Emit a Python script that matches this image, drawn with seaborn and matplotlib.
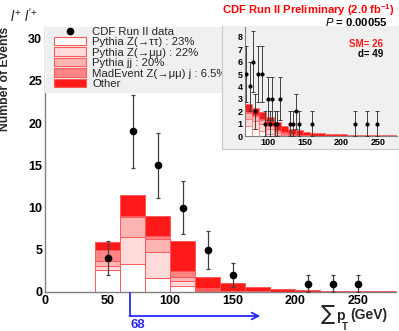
import numpy as np
import pandas as pd
import matplotlib
matplotlib.use("Agg")
import matplotlib.pyplot as plt
import seaborn as sns
from matplotlib.patches import Rectangle, Patch
from matplotlib.lines import Line2D
from matplotlib import transforms
from matplotlib.ticker import MultipleLocator

# ---------------- data ----------------
bin_edges = [0, 20, 40, 60, 80, 100, 120, 140, 160, 180, 200, 220, 240, 260, 280]
ztt   = [0, 0, 2.60, 3.27, 1.62, 0.70, 0.10, 0.03, 0.01, 0.00, 0.00, 0.00, 0.00, 0.00]
zmm   = [0, 0, 0.50, 3.28, 3.11, 0.60, 0.15, 0.03, 0.02, 0.01, 0.00, 0.00, 0.00, 0.00]
jj    = [0, 0, 0.55, 2.32, 1.50, 0.50, 0.10, 0.04, 0.02, 0.01, 0.00, 0.00, 0.00, 0.00]
mad   = [0, 0, 1.32, 0.08, 0.44, 0.65, 0.15, 0.05, 0.02, 0.01, 0.01, 0.00, 0.00, 0.00]
other = [0, 0, 0.95, 2.49, 2.28, 3.55, 1.25, 0.87, 0.56, 0.37, 0.23, 0.16, 0.10, 0.08]

data_x = [50, 70, 90, 110, 130, 150, 210, 230, 250]
data_y = [4, 19, 15, 10, 5, 2, 1, 1, 1]

inset_edges = [68, 78, 88, 98, 108, 118, 128, 138, 148, 158, 168, 178, 188, 198, 208, 218, 228, 238, 248, 258, 268, 278]
in_ztt   = [0.80, 0.60, 0.40, 0.20, 0.10, 0.05, 0.02, 0.01, 0, 0, 0, 0, 0, 0, 0, 0, 0, 0, 0, 0, 0]
in_zmm   = [0.60, 0.60, 0.55, 0.35, 0.15, 0.08, 0.04, 0.02, 0.01, 0, 0, 0, 0, 0, 0, 0, 0, 0, 0, 0, 0]
in_jj    = [0.45, 0.45, 0.35, 0.25, 0.15, 0.08, 0.05, 0.03, 0.02, 0.01, 0, 0, 0, 0, 0, 0, 0, 0, 0, 0, 0]
in_mad   = [0.05, 0.08, 0.10, 0.12, 0.12, 0.08, 0.05, 0.03, 0.02, 0.01, 0, 0, 0, 0, 0, 0, 0, 0, 0, 0, 0]
in_other = [0.65, 0.55, 0.50, 0.60, 0.65, 0.55, 0.44, 0.36, 0.30, 0.26, 0.22, 0.18, 0.16, 0.14, 0.12, 0.10, 0.09, 0.08, 0.07, 0.06, 0.05]

inset_x = [70, 75, 79, 83, 87, 92, 95.5, 100, 103, 105, 109.5, 112, 117, 130, 134, 138, 142, 160, 219, 235.5, 249]
inset_y = [5, 4, 6, 2, 5, 5, 1, 3, 1, 3, 1, 1, 3, 1, 1, 2, 1, 1, 1, 1, 1]

components = ["Other", "MadEvent Z(→μμ) j", "Pythia jj", "Pythia Z(→μμ)", "Pythia Z(→ττ)"]
legend_labels = ["CDF Run II data", "Pythia Z(→ττ) : 23%", "Pythia Z(→μμ) : 22%",
                 "Pythia jj : 20%", "MadEvent Z(→μμ) j : 6.5%", "Other"]
sm_text = "SM= 26"
d_text = "d= 49"
cut_value = 68

# ---------------- style ----------------
sns.set_theme(style="white")
plt.rcParams["font.family"] = ["Liberation Sans", "DejaVu Sans"]
plt.rcParams["mathtext.fontset"] = "custom"
plt.rcParams["mathtext.rm"] = "Liberation Sans"
plt.rcParams["mathtext.it"] = "Liberation Sans:italic"
plt.rcParams["mathtext.bf"] = "Liberation Sans:bold"

palette = {"Other": "#ff1a1a", "MadEvent Z(→μμ) j": "#ff8484",
           "Pythia jj": "#ffb4b4", "Pythia Z(→μμ)": "#ffdada", "Pythia Z(→ττ)": "#ffffff"}
edge = "#ff5a5a"
axis_gray = "#808080"

W, H = 399, 331
def fx(px): return px / W
def fy(py): return 1 - py / H

def long_df(edges, layers):
    centers = [(edges[i] + edges[i + 1]) / 2 for i in range(len(edges) - 1)]
    rows = []
    for name, vals in zip(components, layers):
        for c, v in zip(centers, vals):
            rows.append({"x": c, "w": v, "comp": name})
    return pd.DataFrame(rows)

fig = plt.figure(figsize=(3.99, 3.31), dpi=100)

# ---------------- main axes ----------------
ax = fig.add_axes([fx(45), fy(292), (395.6 - 45) / W, (292 - 26.7) / H])
ax.set_facecolor("white")
df_main = long_df(bin_edges, [other, mad, jj, zmm, ztt])
sns.histplot(data=df_main, x="x", weights="w", hue="comp", hue_order=components,
             bins=bin_edges, multiple="stack", palette=palette, alpha=1,
             edgecolor=edge, linewidth=0.7, legend=False, ax=ax)
ax.errorbar(data_x, data_y, yerr=np.sqrt(data_y), fmt="o", color="black", ms=4.5,
            ecolor="#404040", elinewidth=0.9, capsize=1.5, capthick=0.9, zorder=6)
ax.set_xlim(0, 280)
ax.set_ylim(0, 31.4)
ax.set_xlabel("")
ax.set_ylabel("")
for s in ["top", "right"]:
    ax.spines[s].set_visible(False)
for s in ["left", "bottom"]:
    ax.spines[s].set_color(axis_gray)
    ax.spines[s].set_linewidth(1.0)
ax.xaxis.set_major_locator(MultipleLocator(50))
ax.xaxis.set_minor_locator(MultipleLocator(10))
ax.yaxis.set_major_locator(MultipleLocator(5))
ax.yaxis.set_minor_locator(MultipleLocator(1))
ax.tick_params(which="both", direction="in", color=axis_gray, labelcolor="black",
               width=0.8, labelsize=9, pad=2)
ax.tick_params(axis="y", which="major", length=8.6)
ax.tick_params(axis="y", which="minor", length=4.5)
ax.tick_params(axis="x", which="major", length=6.5)
ax.tick_params(axis="x", which="minor", length=3.2)
for lbl in ax.get_xticklabels() + ax.get_yticklabels():
    lbl.set_fontweight("bold")

# legend background + legend
ax.add_patch(Rectangle((fx(45), fy(93)), fx(222) - fx(45), fy(27) - fy(93),
                       transform=fig.transFigure, facecolor="#f0f0f0",
                       edgecolor="none", clip_on=False, zorder=4))
handles = [Line2D([], [], marker="o", color="black", ls="none", ms=4.5)]
for comp in ["Pythia Z(→ττ)", "Pythia Z(→μμ)", "Pythia jj", "MadEvent Z(→μμ) j", "Other"]:
    handles.append(Patch(facecolor=palette[comp], edgecolor=edge, linewidth=0.8))
leg = ax.legend(handles, legend_labels, loc="upper left",
                bbox_to_anchor=(fx(54), fy(26.5)), bbox_transform=fig.transFigure,
                frameon=False, borderpad=0, borderaxespad=0, fontsize=8.2,
                handlelength=2.8, handleheight=0.72, handletextpad=0.55,
                labelspacing=0.04)
leg.set_zorder(5)

# ---------------- inset pad ----------------
pad = fig.add_axes([fx(222), fy(149), (399 - 222) / W, (149 - 26) / H])
pad.set_facecolor("#f0f0f0")
pad.set_xticks([])
pad.set_yticks([])
for s in ["top", "right"]:
    pad.spines[s].set_visible(False)
for s in ["left", "bottom"]:
    pad.spines[s].set_color("#c8c8c8")
    pad.spines[s].set_linewidth(0.8)

ins = fig.add_axes([fx(244.5), fy(136), (397 - 244.5) / W, (136 - 27) / H])
ins.set_facecolor("#f0f0f0")
df_in = long_df(inset_edges, [in_other, in_mad, in_jj, in_zmm, in_ztt])
sns.histplot(data=df_in, x="x", weights="w", hue="comp", hue_order=components,
             bins=inset_edges, multiple="stack", palette=palette, alpha=1,
             edgecolor=edge, linewidth=0.4, legend=False, ax=ins)
ins.errorbar(inset_x, inset_y, yerr=np.sqrt(inset_y), fmt="o", color="black", ms=2.0,
             ecolor="#404040", elinewidth=0.7, capsize=1.3, capthick=0.7, zorder=6)
ins.set_xlim(68, 276)
ins.set_ylim(0, 8.8)
ins.set_xlabel("")
ins.set_ylabel("")
for s in ["top", "right"]:
    ins.spines[s].set_visible(False)
for s in ["left", "bottom"]:
    ins.spines[s].set_color(axis_gray)
    ins.spines[s].set_linewidth(0.8)
ins.xaxis.set_major_locator(MultipleLocator(50))
ins.xaxis.set_minor_locator(MultipleLocator(10))
ins.yaxis.set_major_locator(MultipleLocator(1))
ins.yaxis.set_minor_locator(MultipleLocator(0.5))
ins.tick_params(which="both", direction="in", color=axis_gray, labelcolor="black",
                width=0.6, labelsize=6.5, pad=1.5)
ins.tick_params(which="major", length=3.5)
ins.tick_params(which="minor", length=2)
for lbl in ins.get_xticklabels() + ins.get_yticklabels():
    lbl.set_fontweight("bold")

fig.text(fx(383), fy(44), sm_text, color="#ff1a1a", fontsize=7, fontweight="bold",
         ha="right", va="center")
fig.text(fx(383), fy(54), d_text, color="black", fontsize=7, fontweight="bold",
         ha="right", va="center")

# ---------------- texts ----------------
fig.text(fx(395), fy(13.5), r"CDF Run II Preliminary (2.0 fb$^{\mathbf{-1}}$)", color="red",
         fontsize=8.1, fontweight="bold", ha="right", va="baseline")
fig.text(fx(388), fy(26), r"$\mathit{P}$ = 0.00055", color="black",
         fontsize=8.1, fontweight="bold", ha="right", va="baseline")
fig.text(fx(5.5), fy(27), "Number of Events", rotation=90, fontsize=8.7,
         fontweight="bold", ha="center", va="top")
fig.text(fx(10), fy(16), r"$l^{+}\ l'^{+}$", fontsize=10, ha="left", va="center")

# x label pieces
fig.text(fx(328), fy(314), "∑", fontsize=15, ha="center", va="center",
         family=["DejaVu Sans"])
fig.text(fx(336.5), fy(316), "p", fontsize=10, fontweight="bold", ha="left", va="center")
fig.text(fx(342), fy(327.5), "T", fontsize=7, fontweight="bold", ha="left", va="center")
fig.text(fx(350), fy(315.5), "(GeV)", fontsize=10, fontweight="bold", ha="left", va="center")

# cut arrow
blend = transforms.blended_transform_factory(ax.transData, fig.transFigure)
ax.plot([cut_value, cut_value], [fy(293), fy(316)], color="#2a2aff", lw=1.3,
        transform=blend, clip_on=False, zorder=7)
ax.annotate("", xy=(172, fy(316)), xytext=(cut_value - 0.5, fy(316)),
            xycoords=blend, textcoords=blend,
            arrowprops=dict(arrowstyle="->", color="#2a2aff", lw=1.3,
                            shrinkA=0, shrinkB=0, mutation_scale=12),
            annotation_clip=False)
ax.text(cut_value, fy(325), str(cut_value), transform=blend, color="#2a2aff",
        fontsize=9.5, fontweight="bold", ha="left", va="center")

fig.savefig("out.png", dpi=100)
